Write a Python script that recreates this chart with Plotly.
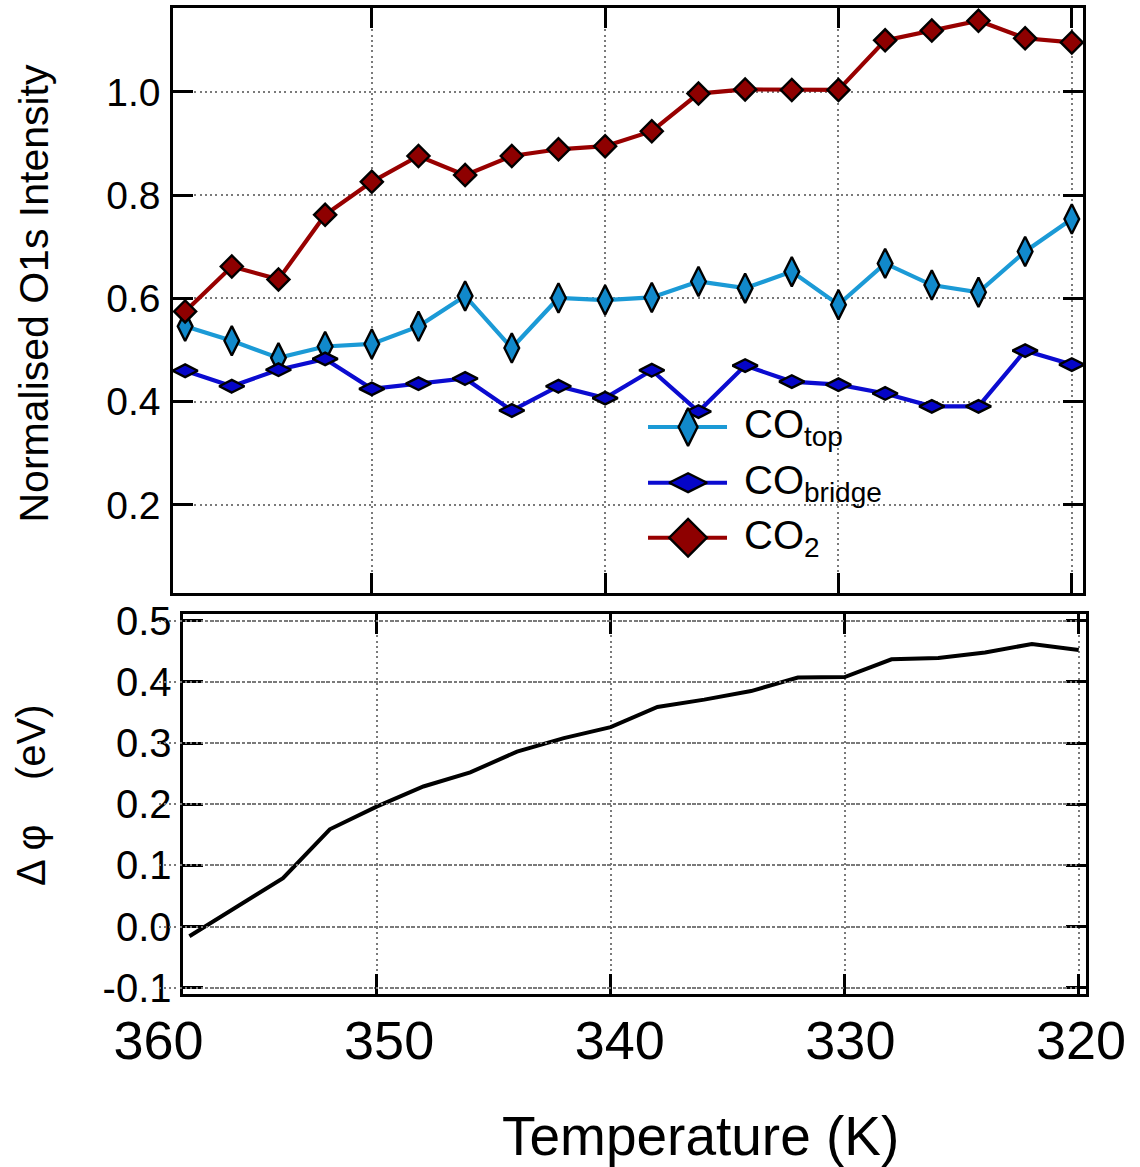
import plotly.graph_objects as go

# Temperature ramp (K), cooling from 358 K to 320 K in 2 K steps
temperature = [358, 356, 354, 352, 350, 348, 346, 344, 342, 340,
               338, 336, 334, 332, 330, 328, 326, 324, 322, 320]

# Normalised O1s intensities
co_top = [0.546, 0.518, 0.485, 0.507, 0.512, 0.546, 0.605, 0.504, 0.601, 0.597,
          0.602, 0.633, 0.620, 0.652, 0.588, 0.668, 0.626, 0.612, 0.691, 0.754]
co_bridge = [0.460, 0.430, 0.462, 0.483, 0.425, 0.435, 0.445, 0.383, 0.430, 0.407,
             0.461, 0.381, 0.470, 0.439, 0.433, 0.416, 0.391, 0.391, 0.499, 0.472]
co2 = [0.575, 0.662, 0.637, 0.762, 0.826, 0.876, 0.839, 0.876, 0.889, 0.895,
       0.924, 0.997, 1.005, 1.004, 1.004, 1.100, 1.119, 1.138, 1.104, 1.096]

# Work-function change (eV)
delta_phi = [-0.016, 0.032, 0.079, 0.159, 0.196, 0.229, 0.252, 0.286, 0.308, 0.326,
             0.359, 0.371, 0.385, 0.407, 0.408, 0.437, 0.439, 0.448, 0.462, 0.452]

# Tick values / labels
top_yticks = [0.2, 0.4, 0.6, 0.8, 1.0]
top_yticklabels = ["0.2", "0.4", "0.6", "0.8", "1.0"]
bot_yticks = [-0.1, 0.0, 0.1, 0.2, 0.3, 0.4, 0.5]
bot_yticklabels = ["-0.1", "0.0", "0.1", "0.2", "0.3", "0.4", "0.5"]
t_ticks = [360, 350, 340, 330, 320]
t_ticklabels = ["360", "350", "340", "330", "320"]

series_names = ["CO<sub>top</sub>", "CO<sub>bridge</sub>", "CO<sub>2</sub>"]

W, H = 1140, 1167
FONT = "Liberation Sans, Arial, sans-serif"

C_TOP_LINE, C_TOP_MARK = "#1b9ad6", "#1189cb"
C_BR_LINE, C_BR_MARK = "#0b0bd0", "#0505c8"
C_CO2_LINE, C_CO2_MARK = "#980000", "#8e0000"


def fx(px):
    return px / W


def fy(py):
    return 1 - py / H


fig = go.Figure()

styles = [
    (co_top, C_TOP_LINE, C_TOP_MARK, "diamond-tall", 21),
    (co_bridge, C_BR_LINE, C_BR_MARK, "diamond-wide", 18),
    (co2, C_CO2_LINE, C_CO2_MARK, "diamond", 17),
]
for (vals, lc, mc, sym, sz), name in zip(styles, series_names):
    fig.add_trace(go.Scatter(
        x=temperature, y=vals, name=name, mode="lines+markers",
        line=dict(color=lc, width=4.2),
        marker=dict(symbol=sym, size=sz, color=mc, line=dict(color="black", width=2.4)),
        xaxis="x", yaxis="y", showlegend=False, cliponaxis=False,
    ))

fig.add_trace(go.Scatter(
    x=temperature, y=delta_phi, mode="lines",
    line=dict(color="black", width=4),
    xaxis="x2", yaxis="y2", showlegend=False,
))

# Empty carrier so the temperature label axis (x3) gets a subplot
fig.add_trace(go.Scatter(
    x=t_ticks, y=[None] * len(t_ticks), mode="markers",
    marker=dict(opacity=0), xaxis="x3", yaxis="y2",
    showlegend=False, hoverinfo="skip",
))

# Key for the top panel, drawn on an overlay axis spanning the panel
key_rows = [0.2838, 0.1885, 0.0945]
key_line_x = [0.522, 0.6088]
key_mark_x = 0.566
key_text_x = 0.6255
key_sizes = [27, 27, 29]
for (vals, lc, mc, sym, sz), ky, ks, name in zip(styles, key_rows, key_sizes, series_names):
    fig.add_trace(go.Scatter(
        x=key_line_x, y=[ky, ky], mode="lines",
        line=dict(color=lc, width=4),
        xaxis="x4", yaxis="y4", showlegend=False, hoverinfo="skip",
    ))
    fig.add_trace(go.Scatter(
        x=[key_mark_x], y=[ky], mode="markers",
        marker=dict(symbol=sym, size=ks, color=mc, line=dict(color="black", width=2.4)),
        xaxis="x4", yaxis="y4", showlegend=False, hoverinfo="skip", cliponaxis=False,
    ))
    fig.add_annotation(
        x=key_text_x, y=ky, xref="x4", yref="y4", text=name, showarrow=False,
        xanchor="left", yanchor="middle", yshift=0,
        font=dict(family=FONT, size=40, color="black"),
    )

frame = dict(
    showline=True, linecolor="black", linewidth=2.5, mirror="ticks",
    ticks="inside", ticklen=20, tickwidth=2.5, tickcolor="black",
    showgrid=True, gridcolor="#7a7a7a", gridwidth=2, griddash="2px,3.3px",
    zeroline=False,
)

fig.update_layout(
    width=W, height=H,
    margin=dict(l=0, r=0, t=0, b=0, autoexpand=False),
    paper_bgcolor="white", plot_bgcolor="rgba(0,0,0,0)",
    font=dict(family=FONT, color="black"),
    showlegend=False,
    xaxis=dict(domain=[fx(173), fx(1083)], range=[358.52, 319.52], anchor="y",
               tickvals=t_ticks, showticklabels=False, **frame),
    yaxis=dict(domain=[fy(593), fy(8)], range=[0.0295, 1.1627], anchor="x",
               tickvals=top_yticks, ticktext=top_yticklabels,
               tickfont=dict(size=39), ticklabelstandoff=2, **frame),
    xaxis2=dict(domain=[fx(183.3), fx(1085.5)], range=[358.26, 319.71], anchor="y2",
                tickvals=t_ticks, showticklabels=False, **frame),
    yaxis2=dict(domain=[fy(994), fy(614)], range=[-0.1103, 0.511], anchor="x2",
                tickvals=bot_yticks, ticktext=bot_yticklabels,
                tickfont=dict(size=40), ticklabelstandoff=1, **frame),
    # temperature labels under the lower panel
    xaxis3=dict(domain=[fx(158.5), fx(1081)], range=[360, 320], anchor="y2",
                side="bottom", showline=False, showgrid=False, zeroline=False,
                ticks="", tickvals=t_ticks, ticktext=t_ticklabels,
                tickfont=dict(size=54), ticklabelstandoff=10),
    xaxis4=dict(overlaying="x", range=[0, 1], anchor="y4", visible=False),
    yaxis4=dict(overlaying="y", range=[0, 1], anchor="x4", visible=False),
)

fig.add_annotation(
    x=fx(33), y=fy(293.5), xref="paper", yref="paper",
    text="Normalised O1s Intensity", textangle=-90, showarrow=False,
    xanchor="center", yanchor="middle", font=dict(family=FONT, size=41, color="black"),
)
fig.add_annotation(
    x=fx(31), y=fy(795), xref="paper", yref="paper",
    text="\u0394 \u03c6\u00a0\u00a0\u00a0\u00a0(eV)", textangle=-90, showarrow=False,
    xanchor="center", yanchor="middle", font=dict(family=FONT, size=40, color="black"),
)
fig.add_annotation(
    x=fx(700), y=fy(1136), xref="paper", yref="paper",
    text="Temperature (K)", showarrow=False,
    xanchor="center", yanchor="middle", font=dict(family=FONT, size=55, color="black"),
)

fig.write_html("out.html")
